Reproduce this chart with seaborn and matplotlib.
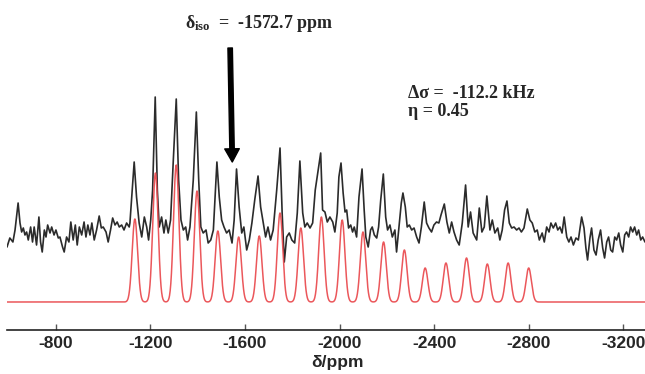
import numpy as np
import pandas as pd
import matplotlib
matplotlib.use('Agg')
import matplotlib.pyplot as plt
import seaborn as sns

# simulated sideband manifold (red): positions (ppm) and intensities (a.u.)
sim_ppm = [-1134, -1221, -1309, -1397, -1485, -1573, -1660, -1748, -1836, -1923,
           -2011, -2099, -2186, -2274, -2362, -2450, -2537, -2625, -2713, -2800]
sim_int = [83, 129, 137, 111, 71, 65, 66, 89, 74, 85,
           82, 70, 60, 52, 34, 39, 44, 38, 39, 34]
sim_width = 11.5  # ppm, gaussian sigma

exp_ppm = [-593, -605, -618, -627, -640, -648, -655, -662, -669, -676, -683, -693, -701, -708,
           -718, -728, -735, -742, -751, -758, -765, -775, -782, -792, -800, -810, -817, -828,
           -835, -845, -855, -863, -873, -882, -890, -899, -909, -919, -927, -935, -944, -952,
           -962, -972, -983, -992, -1000, -1012, -1021, -1031, -1040, -1050, -1059, -1068,
           -1078, -1088, -1099, -1110, -1113, -1131, -1141, -1152, -1163, -1174, -1184, -1192,
           -1201, -1209, -1220, -1229, -1237, -1247, -1257, -1265, -1275, -1285, -1296, -1309,
           -1319, -1329, -1339, -1349, -1357, -1367, -1381, -1394, -1404, -1413, -1423, -1435,
           -1444, -1455, -1466, -1481, -1491, -1501, -1511, -1522, -1533, -1545, -1554, -1564,
           -1575, -1586, -1595, -1607, -1618, -1629, -1641, -1655, -1666, -1677, -1687, -1697,
           -1708, -1719, -1734, -1748, -1757, -1766, -1776, -1787, -1798, -1810, -1821, -1832,
           -1844, -1853, -1863, -1875, -1886, -1897, -1920, -1928, -1938, -1948, -1959, -1971,
           -1980, -1990, -1997, -2006, -2015, -2023, -2030, -2038, -2047, -2055, -2062, -2072,
           -2082, -2095, -2104, -2111, -2121, -2131, -2138, -2147, -2157, -2165, -2174, -2185,
           -2195, -2203, -2213, -2223, -2234, -2241, -2251, -2261, -2268, -2278, -2286, -2295,
           -2305, -2315, -2326, -2336, -2346, -2358, -2368, -2378, -2389, -2399, -2410, -2420,
           -2429, -2443, -2454, -2464, -2474, -2484, -2495, -2506, -2519, -2533, -2544, -2554,
           -2565, -2580, -2591, -2602, -2612, -2623, -2636, -2646, -2657, -2669, -2678, -2688,
           -2698, -2708, -2718, -2728, -2738, -2749, -2759, -2769, -2780, -2794, -2805, -2815,
           -2826, -2836, -2845, -2857, -2866, -2876, -2886, -2894, -2904, -2914, -2923, -2932,
           -2941, -2950, -2961, -2970, -2979, -2989, -3000, -3010, -3024, -3034, -3042, -3049,
           -3059, -3066, -3076, -3085, -3094, -3104, -3113, -3121, -3130, -3138, -3147, -3155,
           -3164, -3172, -3181, -3189, -3198, -3206, -3214, -3223, -3231, -3240, -3248, -3257,
           -3265, -3274, -3282, -3292]
exp_int = [55, 64, 60, 72, 99, 79, 70, 74, 67, 70, 62, 75, 60, 75,
           57, 85, 60, 50, 72, 65, 77, 69, 75, 67, 72, 64, 65, 55,
           50, 65, 60, 80, 62, 77, 57, 75, 67, 80, 65, 77, 67, 79,
           62, 72, 86, 74, 75, 70, 60, 72, 84, 77, 80, 75,
           77, 72, 79, 75, 79, 140, 105, 79, 65, 85, 75, 62,
           82, 112, 205, 112, 75, 85, 69, 82, 69, 82, 139, 203,
           122, 82, 72, 75, 62, 75, 122, 190, 122, 75, 69, 72,
           59, 62, 72, 140, 105, 82, 75, 69, 72, 59, 82, 133,
           95, 69, 75, 52, 62, 79, 102, 126, 95, 79, 65, 75,
           62, 72, 112, 154, 89, 40, 65, 69, 62, 59, 89, 141,
           89, 75, 79, 74, 79, 112, 149, 92, 90, 80, 85, 80,
           70, 89, 125, 139, 109, 90, 92, 74, 77, 70, 75, 65,
           105, 133, 92, 65, 55, 72, 75, 67, 64, 75, 102, 128,
           85, 72, 77, 65, 72, 50, 74, 99, 109, 95, 75, 77,
           72, 74, 65, 59, 75, 100, 79, 74, 70, 77, 80, 79,
           87, 98, 80, 69, 80, 70, 62, 57, 79, 117, 75, 90,
           69, 62, 94, 70, 75, 106, 72, 82, 69, 74, 62, 72,
           92, 101, 79, 74, 75, 72, 74, 70, 74, 93, 82, 79,
           70, 72, 62, 69, 60, 75, 70, 79, 74, 79, 72, 75,
           69, 85, 65, 60, 65, 57, 64, 62, 85, 74, 54, 42,
           64, 74, 52, 47, 62, 72, 54, 44, 60, 65, 52, 50,
           65, 62, 69, 57, 50, 67, 70, 65, 75, 70, 75, 67,
           72, 62, 65, 60]

tick_vals = [-800, -1200, -1600, -2000, -2400, -2800, -3200]
tick_labels = ['-800', '-1200', '-1600', '-2000', '-2400', '-2800', '-3200']

sns.set_theme(style='white')
plt.rcParams['font.family'] = ['Liberation Sans', 'DejaVu Sans']
plt.rcParams['mathtext.fontset'] = 'custom'
plt.rcParams['mathtext.rm'] = 'Liberation Serif:bold'
plt.rcParams['mathtext.it'] = 'Liberation Serif:bold'
plt.rcParams['mathtext.bf'] = 'Liberation Serif:bold'

# simulated line shape from the peak table
grid = np.linspace(-593, -3292, 3000)
sim_line = np.zeros_like(grid)
for c, h in zip(sim_ppm, sim_int):
    sim_line += h * np.exp(-(grid - c) ** 2 / (2 * sim_width ** 2))
sim_df = pd.DataFrame({'ppm': grid, 'intensity': sim_line})
exp_df = pd.DataFrame({'ppm': exp_ppm, 'intensity': exp_int})

fig = plt.figure(figsize=(6.45, 3.74), dpi=100)
ax = fig.add_axes([7 / 645, 44 / 374, 638 / 645, 290 / 374])

sns.lineplot(data=exp_df, x='ppm', y='intensity', ax=ax, color='#2b2b2b', lw=1.2,
             estimator=None, sort=False)
sns.lineplot(data=sim_df, x='ppm', y='intensity', ax=ax, color='#ea4e52', lw=1.1,
             estimator=None, sort=False, alpha=0.95)

ax.set_xlim(-593, -3292)
ax.set_ylim(-28, 262)
ax.set_xticks(tick_vals)
ax.set_xticklabels(tick_labels, fontsize=12.5, fontweight='bold')
ax.set_yticks([])
ax.set_ylabel('')
ax.set_xlabel('δ/ppm', fontsize=12.5, fontweight='bold')
ax.xaxis.set_label_coords(0.518, -0.085)
for s in ['top', 'left', 'right']:
    ax.spines[s].set_visible(False)
ax.spines['bottom'].set_color('#222222')
ax.spines['bottom'].set_linewidth(1.2)
ax.tick_params(axis='x', direction='in', length=4, width=1, color='#555555', pad=4,
               bottom=True)

ax.annotate('', xy=(-1546, 140), xytext=(-1537, 254),
            arrowprops=dict(facecolor='black', edgecolor='black', width=3.2, headwidth=10.5,
                            headlength=9.5, shrink=0), annotation_clip=False)

fig.text(185 / 645, 1 - 23 / 374, r'$\delta_{iso}$  =  -1572.7 ppm', ha='left', va='center',
         family='Liberation Serif', fontweight='bold', fontsize=13)
fig.text(408 / 645, 1 - 93 / 374, 'Δσ =  -112.2 kHz', ha='left', va='center',
         family='Liberation Serif', fontweight='bold', fontsize=13)
fig.text(408 / 645, 1 - 112 / 374, 'η = 0.45', ha='left', va='center',
         family='Liberation Serif', fontweight='bold', fontsize=13)

fig.savefig('out.png', dpi=100)
